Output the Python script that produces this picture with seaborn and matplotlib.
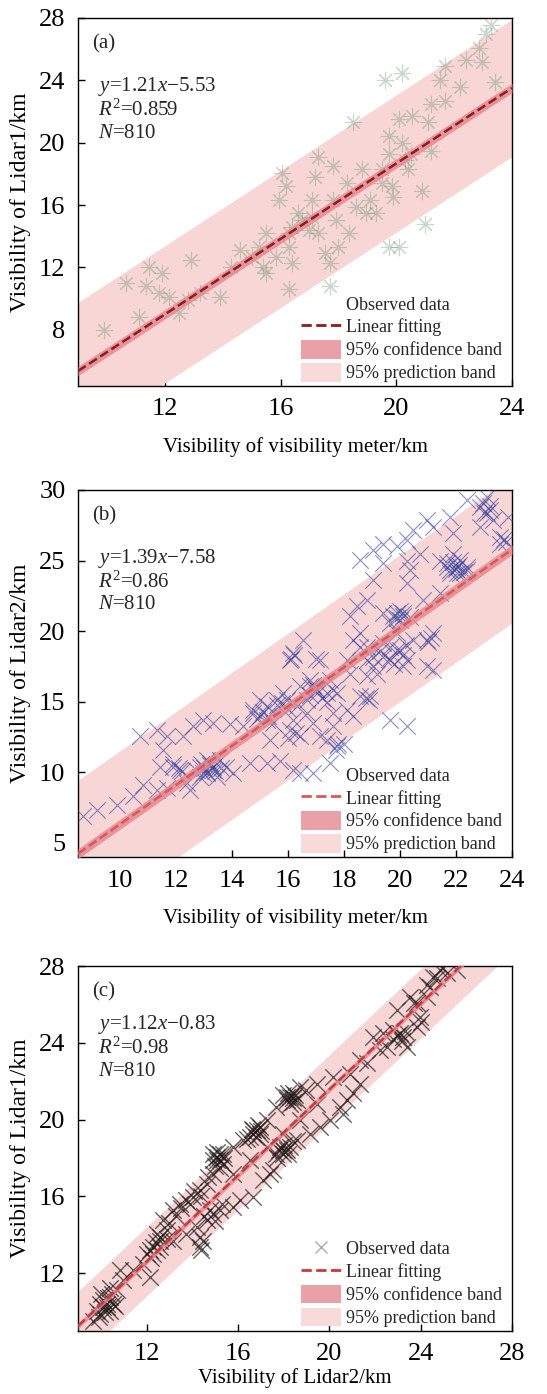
import numpy as np
import pandas as pd
import matplotlib
matplotlib.use("Agg")
import matplotlib.pyplot as plt
import seaborn as sns
from matplotlib.lines import Line2D
from matplotlib.patches import Patch

sns.set_theme(style="ticks")
plt.rcParams["font.family"] = ["Liberation Serif", "DejaVu Serif"]
plt.rcParams["mathtext.fontset"] = "custom"
plt.rcParams["mathtext.rm"] = "Liberation Serif"
plt.rcParams["mathtext.it"] = "Liberation Serif:italic"

# ---- observations (x, y) ----
lidar1_vs_meter = [
    (23.28, 27.55), (22.87, 26.1), (22.97, 25.2), (23.4, 23.9), (22.2, 23.6), (21.7, 22.7),
    (21.5, 24.0), (21.2, 22.5), (20.2, 24.5), (19.6, 24.0), (18.5, 21.3), (20.1, 21.5),
    (19.75, 20.4), (20.2, 20.0), (20.5, 19.3), (21.2, 19.5), (18.8, 18.3), (19.5, 18.3),
    (20.4, 18.3), (20.9, 16.9), (19.5, 17.4), (19.9, 16.5), (19.1, 16.3), (19.3, 15.5),
    (17.3, 19.1), (17.2, 17.8), (17.8, 18.5), (18.3, 17.4), (16.05, 18.05), (16.2, 17.2),
    (15.95, 16.3), (16.6, 15.5), (17.0, 14.4), (17.3, 14.2), (17.9, 15.05), (18.35, 14.2),
    (18.0, 13.3), (17.55, 12.9), (17.7, 12.3), (17.7, 10.8), (16.3, 10.6), (16.4, 12.3),
    (15.85, 12.7), (16.3, 13.3), (15.5, 14.2), (15.4, 12.0), (15.0, 12.7), (14.6, 13.1),
    (14.3, 12.0), (13.9, 10.1), (13.2, 10.35), (12.8, 9.9), (12.5, 9.1), (12.9, 12.5),
    (11.9, 11.65), (11.45, 12.0), (11.35, 10.8), (11.8, 10.35), (12.15, 10.1), (10.65, 11.0),
    (9.9, 8.0), (11.1, 8.85), (19.75, 13.3), (20.1, 13.3), (21.0, 14.8), (17.1, 16.3),
    (17.8, 16.3), (18.6, 15.9), (18.95, 15.5), (15.25, 13.3), (15.5, 11.65), (19.85, 17.2),
    (20.3, 18.9), (19.75, 19.3), (20.55, 21.7), (21.1, 21.3), (21.7, 24.9), (22.4, 25.3),
    (23.1, 27.0), (16.4, 14.6), (16.75, 15.05), (16.3, 14.2), (17.1, 15.25),
]

lidar2_vs_meter = [
    (8.69, 6.89), (9.17, 7.36), (9.88, 7.71), (10.48, 8.3), (10.83, 9.13), (11.31, 8.77),
    (11.67, 8.89), (10.71, 12.55), (11.31, 13.0), (11.55, 11.6), (11.67, 12.55), (11.43, 10.4),
    (11.9, 10.4), (12.14, 10.2), (12.38, 9.25), (12.5, 8.77), (12.86, 10.4), (13.1, 10.9),
    (13.33, 10.4), (13.45, 9.7), (12.98, 9.95), (14.05, 9.95), (13.8, 10.4), (12.26, 12.55),
    (12.62, 13.25), (12.98, 13.7), (13.33, 13.5), (13.93, 13.4), (14.4, 13.25), (14.76, 14.4),
    (15.0, 13.96), (15.24, 14.67), (15.48, 13.5), (14.64, 10.66), (15.24, 10.66), (15.71, 10.78),
    (16.19, 10.2), (16.43, 9.95), (16.9, 9.95), (17.5, 10.66), (17.74, 11.84), (17.38, 12.3),
    (17.14, 12.55), (17.62, 13.25), (16.9, 13.5), (16.43, 12.55), (16.07, 13.0), (15.95, 15.14),
    (15.6, 15.14), (16.07, 17.97), (16.19, 18.44), (16.55, 19.4), (16.79, 16.1), (16.67, 15.14),
    (17.02, 15.6), (17.14, 17.97), (17.5, 16.56), (17.74, 15.6), (17.62, 14.2), (18.1, 14.4),
    (18.33, 13.96), (18.57, 15.38), (18.93, 15.38), (18.21, 17.0), (18.1, 17.97), (18.33, 19.4),
    (18.57, 19.86), (18.81, 17.97), (19.05, 18.2), (19.4, 18.2), (19.17, 17.0), (19.64, 18.9),
    (19.88, 18.68), (19.76, 21.04), (20.12, 21.27), (20.0, 20.8), (20.24, 17.97), (20.12, 17.5),
    (19.64, 13.73), (20.24, 13.25), (20.95, 19.4), (21.19, 19.86), (20.95, 17.5), (21.19, 17.26),
    (18.45, 21.75), (18.21, 21.04), (18.81, 22.2), (19.05, 23.6), (19.4, 24.8), (19.88, 26.0),
    (20.24, 26.46), (20.24, 25.0), (20.24, 23.4), (20.36, 24.3), (20.71, 25.5), (20.83, 22.2),
    (21.43, 25.0), (21.67, 24.8), (21.9, 25.5), (21.79, 24.3), (22.02, 24.55), (22.14, 24.1),
    (22.38, 24.3), (21.9, 26.93), (21.43, 22.7), (21.19, 27.4), (21.79, 28.1), (22.38, 29.3),
    (22.86, 28.8), (23.1, 28.35), (23.33, 27.9), (22.86, 27.4), (23.57, 26.7), (23.57, 26.2),
    (23.87, 28.1), (23.1, 29.5), (19.4, 26.2), (19.05, 25.75), (18.57, 25.05), (20.95, 27.9),
    (20.48, 27.2), (13.21, 10.66), (13.33, 10.2), (13.1, 9.95), (13.57, 10.9), (12.86, 9.7),
    (15.83, 15.6), (16.43, 16.1), (16.79, 16.56), (17.02, 15.85), (17.38, 15.6), (17.62, 15.85),
    (16.31, 14.67), (16.67, 14.2), (16.19, 13.73), (15.0, 15.14), (14.76, 14.2), (15.24, 13.73),
    (15.36, 12.3), (19.4, 19.15), (19.64, 17.97), (20.0, 18.68), (19.88, 19.86), (20.48, 19.4),
    (18.81, 18.9), (18.57, 18.9), (19.05, 17.5), (18.81, 16.8), (19.64, 20.55), (19.88, 21.27),
    (20.36, 21.0), (19.4, 21.27), (21.67, 24.58), (22.02, 24.1), (22.38, 24.58), (22.14, 25.05),
    (21.79, 24.1), (22.98, 29.06), (23.21, 28.58),
    (13.0, 10.3), (13.2, 10.5), (13.4, 10.1), (13.1, 10.0), (12.9, 10.6), (13.6, 10.3),
    (12.7, 10.2), (12.1, 10.3), (12.2, 10.1), (11.9, 10.6), (15.1, 14.3), (15.3, 14.0),
    (14.9, 13.8), (15.8, 14.9), (15.6, 14.8), (16.0, 14.5), (16.8, 15.5), (17.0, 15.9),
    (17.2, 15.3), (16.9, 16.2), (17.4, 15.0), (19.6, 18.0), (19.8, 17.7), (20.1, 18.3),
    (20.2, 19.0), (19.3, 18.6), (19.9, 20.9), (20.1, 21.1), (20.0, 21.4), (21.1, 19.5),
    (21.0, 19.2), (22.0, 24.4), (22.1, 24.7), (21.9, 24.9), (22.3, 24.2), (23.0, 28.4),
    (23.2, 28.9), (23.7, 26.5), (23.8, 26.3), (16.2, 18.3), (16.1, 18.0), (17.0, 18.0),
    (16.0, 12.4), (16.3, 12.8), (17.7, 11.6), (17.8, 12.0), (18.0, 12.0), (18.8, 15.3),
    (18.9, 15.1),
]

lidar1_vs_lidar2 = [
    (9.66, 9.53), (9.96, 9.88), (10.25, 10.23), (10.39, 10.75), (10.1, 10.58), (10.69, 11.1),
    (9.81, 10.05), (10.54, 10.4), (10.98, 11.62), (10.83, 12.14), (11.42, 12.14), (11.85, 12.49),
    (12.15, 11.79), (12.0, 13.0), (12.29, 13.36), (12.58, 13.7), (12.44, 14.05), (12.88, 14.23),
    (12.73, 14.75), (13.17, 15.27), (13.46, 15.6), (13.75, 15.8), (14.04, 15.97), (14.34, 16.31),
    (14.63, 16.66), (14.92, 17.18), (15.07, 17.88), (15.21, 18.23), (15.36, 17.71), (14.92, 18.23),
    (15.8, 18.58), (16.23, 18.92), (16.67, 19.44), (16.96, 19.27), (17.26, 19.97), (17.69, 20.66),
    (18.13, 21.18), (18.42, 21.36), (18.72, 21.7), (19.0, 21.53), (19.45, 21.88), (20.18, 22.23),
    (13.17, 13.7), (13.75, 14.05), (14.34, 13.88), (14.63, 14.75), (14.92, 15.1), (15.21, 15.27),
    (15.8, 15.44), (16.09, 15.8), (16.67, 15.97), (17.11, 16.83), (17.4, 17.18), (17.69, 18.23),
    (17.99, 18.4), (18.28, 18.58), (18.57, 18.92), (19.15, 19.27), (19.59, 19.62), (20.03, 19.97),
    (20.47, 20.66), (20.76, 21.01), (21.05, 21.36), (21.34, 21.88), (20.61, 20.31), (14.34, 13.36),
    (14.48, 13.7), (17.55, 17.36), (15.8, 17.18), (16.53, 17.88), (17.26, 18.58), (17.99, 19.27),
    (18.72, 19.97), (19.45, 20.83), (21.34, 23.1), (21.64, 22.93), (21.93, 24.31), (22.36, 24.49),
    (22.8, 24.66), (23.1, 24.49), (23.24, 24.31), (22.95, 25.7), (23.53, 26.4), (23.82, 26.05),
    (23.97, 25.36), (23.82, 24.83), (24.41, 26.92), (24.55, 27.44), (24.85, 27.79), (25.14, 27.62),
    (25.58, 27.79), (24.26, 26.4), (23.39, 23.79), (22.51, 23.79), (22.22, 23.62), (20.91, 22.4),
    (18.13, 21.01), (18.28, 21.18), (18.42, 21.1), (17.99, 21.27), (16.67, 19.27), (16.82, 19.44),
    (16.96, 19.62), (16.53, 19.1), (15.07, 18.05), (15.21, 17.88), (15.36, 18.23), (14.92, 17.88),
    (12.29, 13.0), (12.44, 13.18), (12.15, 13.18), (12.58, 13.36), (10.1, 10.23), (10.25, 10.4),
    (10.39, 10.05), (9.96, 10.4), (17.99, 18.23), (18.13, 18.4), (17.84, 18.58),
    (10.3, 10.7), (10.5, 10.9), (10.2, 10.0), (9.9, 9.7), (10.6, 10.3), (10.0, 10.9),
    (10.4, 11.2), (12.4, 13.6), (12.6, 13.9), (12.2, 12.8), (12.9, 13.8), (13.0, 14.6),
    (13.3, 15.0), (13.5, 15.4), (13.9, 15.6), (14.1, 16.3), (14.4, 16.0), (14.7, 17.0),
    (15.0, 17.6), (15.2, 17.5), (15.4, 18.0), (15.1, 18.3), (16.6, 19.5), (16.8, 19.1),
    (17.0, 19.4), (16.9, 19.7), (16.4, 19.0), (18.4, 20.9), (18.5, 21.3), (18.3, 20.8),
    (18.6, 21.0), (18.2, 21.4), (17.8, 18.4), (18.0, 18.7), (18.2, 18.2), (17.7, 18.0),
    (18.4, 18.9), (14.5, 15.0), (14.8, 15.3), (15.0, 14.7), (15.3, 15.6), (14.2, 14.4),
    (14.4, 13.2), (23.0, 24.4), (22.8, 24.2), (23.3, 24.6), (24.7, 27.4), (25.0, 27.9),
    (24.3, 27.0), (23.7, 26.1), (24.0, 25.1), (23.2, 24.1),
]

# ---- regression results ----
slopes = [1.21, 1.39, 1.12]
intercepts = [-5.53, -7.58, -0.83]
r_squared = ["0.859", "0.86", "0.98"]
sample_sizes = [810, 810, 810]
conf_half_widths = [0.3, 0.35, 0.15]
pred_half_widths = [4.4, 5.2, 1.8]

panel_tags = ["(a)", "(b)", "(c)"]
x_labels = ["Visibility of visibility meter/km", "Visibility of visibility meter/km",
            "Visibility of Lidar2/km"]
y_labels = ["Visibility of Lidar1/km", "Visibility of Lidar2/km", "Visibility of Lidar1/km"]
x_limits = [(9, 24), (8.5, 24), (9, 28)]
y_limits = [(4.4, 28), (4, 30), (9, 28)]
x_ticks = [[12, 16, 20, 24], [10, 12, 14, 16, 18, 20, 22, 24], [12, 16, 20, 24, 28]]
y_ticks = [[8, 12, 16, 20, 24, 28], [5, 10, 15, 20, 25, 30], [12, 16, 20, 24, 28]]

observations = [lidar1_vs_meter, lidar2_vs_meter, lidar1_vs_lidar2]
marker_colors = ["#5f8f66", "#2f3c9e", "#1e1616"]
marker_alphas = [0.35, 0.58, 0.68]
marker_styles = [(8, 2, 0), "x", "x"]
marker_widths = [0.8, 0.8, 1.0]
line_colors = ["#8e1c1c", "#d9585c", "#c8383c"]

PRED_COLOR = "#f8d6d6"
CONF_COLOR = "#e58990"

fig = plt.figure(figsize=(5.47, 13.94), dpi=100)
positions = [
    [0.1426, 0.7231, 0.7934, 0.2640],
    [0.1426, 0.3852, 0.7934, 0.2633],
    [0.1426, 0.0454, 0.7934, 0.2616],
]
x_label_pads = [12, 12, 2]

for i in range(3):
    ax = fig.add_axes(positions[i])
    df = pd.DataFrame(observations[i], columns=["x", "y"])
    x0, x1 = x_limits[i]
    grid = np.linspace(x0, x1, 300)
    fit = slopes[i] * grid + intercepts[i]

    ax.fill_between(grid, fit - pred_half_widths[i], fit + pred_half_widths[i],
                    color=PRED_COLOR, lw=0, zorder=1)
    sns.scatterplot(data=df, x="x", y="y", ax=ax, marker=marker_styles[i], s=140,
                    color=marker_colors[i], alpha=marker_alphas[i],
                    linewidth=marker_widths[i], legend=False, zorder=3)
    ax.fill_between(grid, fit - conf_half_widths[i], fit + conf_half_widths[i],
                    color=CONF_COLOR, alpha=0.85, lw=0, zorder=4)
    sns.lineplot(x=grid, y=fit, ax=ax, color=line_colors[i], linestyle="--",
                 lw=1.8, zorder=5)

    ax.set_xlim(x0, x1)
    ax.set_ylim(*y_limits[i])
    ax.set_xticks(x_ticks[i])
    ax.set_yticks(y_ticks[i])
    ax.tick_params(direction="in", length=5, width=1, labelsize=19, colors="black",
                   pad=9)
    for sp in ax.spines.values():
        sp.set_visible(True)
        sp.set_color("black")
        sp.set_linewidth(1.0)
    ax.set_xlabel(x_labels[i], fontsize=15, labelpad=x_label_pads[i], color="black")
    ax.set_ylabel(y_labels[i], fontsize=17, labelpad=6, color="black")

    ax.text(0.032, 0.955, panel_tags[i], transform=ax.transAxes, fontsize=15,
            va="top", ha="left")
    sign = "\u2212" if intercepts[i] < 0 else "+"
    eq_top = 0.845 if i < 2 else 0.87
    lines = [
        rf"$y$={slopes[i]:.2f}$x${sign}{abs(intercepts[i]):.2f}",
        rf"$R^2$={r_squared[i]}",
        rf"$N$={sample_sizes[i]}",
    ]
    for k, t in enumerate(lines):
        ax.text(0.047, eq_top - k * 0.066, t, transform=ax.transAxes, fontsize=15,
                va="top", ha="left")

    obs_alpha = 0.6 if i == 2 else 0.0
    handles = [
        Line2D([], [], marker="x", linestyle="none", color="#777777", markersize=9,
               alpha=obs_alpha),
        Line2D([], [], color=line_colors[i], linestyle="--", lw=2),
        Patch(facecolor="#e9a0a6", edgecolor="none"),
        Patch(facecolor="#f9dada", edgecolor="none"),
    ]
    labels = ["Observed data", "Linear fitting", "95% confidence band", "95% prediction band"]
    ax.legend(handles, labels, loc="lower left", bbox_to_anchor=(0.505, 0.0),
              frameon=False, fontsize=13, handlelength=2.2, handleheight=1.2,
              handletextpad=0.3, labelspacing=0.2, borderpad=0.2, borderaxespad=0)

fig.savefig("out.png", dpi=100)
